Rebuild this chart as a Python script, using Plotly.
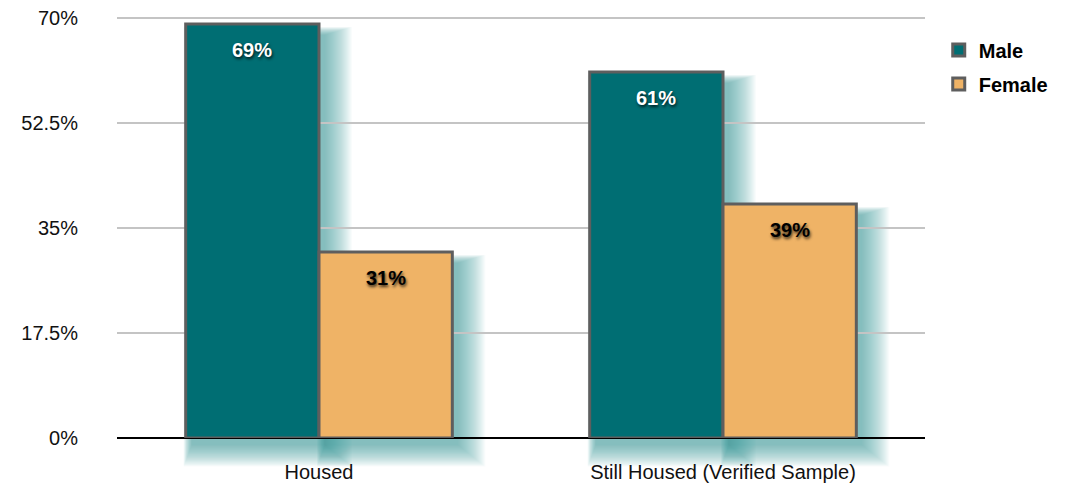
import plotly.graph_objects as go

categories = ["Housed", "Still Housed (Verified Sample)"]
male = [69, 61]
female = [31, 39]
tick_vals = [0, 17.5, 35, 52.5, 70]
tick_text = ["0%", "17.5%", "35%", "52.5%", "70%"]

FONT = "Liberation Sans, Arial, Helvetica, sans-serif"
# the page body has an 8px default margin, so the figure is drawn 8px in
L, R, T, B = 109, 147, 10, 46
W, H = 1064, 476
BARGAP = 0.34
YMAX = 70

fig = go.Figure()
series = [("Male", male, "#006E73", "white", -1), ("Female", female, "#EFB366", "black", 0)]
for name, vals, col, tcol, side in series:
    fig.add_trace(go.Bar(
        name=name, x=categories, y=vals, legendgroup=name,
        marker=dict(color=col, line=dict(color="#5E5E5E", width=3)),
        hoverinfo="x+y",
    ))

plot_w = W - L - R
plot_h = H - T - B
ncat = len(categories)
half = (1 - BARGAP) / 2

def xp(xd, px=0.0):
    return (xd + 0.5) / ncat + px / plot_w

def yp(yd, px=0.0):
    return yd / YMAX + px / plot_h

shapes = []
annotations = []
N = 28
for name, vals, col, tcol, side in series:
    for i, v in enumerate(vals):
        bx0 = i + side * half
        bx1 = bx0 + half
        dx, dy = 6, 7
        for k in range(N):
            g = k * 1.0
            shapes.append(dict(
                type="rect", xref="paper", yref="paper", layer="below",
                x0=xp(bx0, dx - g * 0.3), x1=xp(bx1, dx + g),
                y0=yp(0, -(dy + g * 0.8)), y1=yp(v, -(dy + 4 - g * 0.3)),
                fillcolor="#4A9DAE", opacity=0.03, line=dict(width=0),
            ))
        annotations.append(dict(
            x=i, xref="x", y=v, yref="y", xshift=(side + 0.5) * half * plot_w / ncat,
            yshift=-26, yanchor="middle", showarrow=False, text=f"{v}%",
            font=dict(family=FONT, size=20, color=tcol, weight="bold",
                      shadow="1px 2px 3px rgba(0,0,0,0.75)"),
        ))

# top gridline (plotly skips gridlines that sit on the very edge of the range)
shapes.append(dict(type="line", xref="paper", yref="paper", layer="below",
                   x0=0, x1=1, y0=yp(tick_vals[-1]), y1=yp(tick_vals[-1]),
                   line=dict(color="#C4C4C4", width=2)))

fig.update_layout(
    width=W, height=H,
    margin=dict(l=L, r=R, t=T, b=B),
    barmode="group", bargap=BARGAP, bargroupgap=0.0,
    plot_bgcolor="rgba(0,0,0,0)", paper_bgcolor="white",
    font=dict(family=FONT, size=20, color="#111"),
    legend=dict(x=1.017, y=0.97, xanchor="left", yanchor="top",
                font=dict(family=FONT, size=20, color="black", weight="bold"),
                traceorder="grouped", tracegroupgap=5, itemwidth=30),
    showlegend=True,
    shapes=shapes, annotations=annotations,
)
fig.update_xaxes(showgrid=False, showline=False, ticks="", automargin=False,
                 ticklabelstandoff=20, tickfont=dict(size=20, color="#111"),
                 range=[-0.5, ncat - 0.5])
fig.update_yaxes(range=[0, YMAX], tickvals=tick_vals, ticktext=tick_text, automargin=False,
                 showgrid=True, gridcolor="#C4C4C4", gridwidth=2, ticklabeloverflow="allow",
                 zeroline=True, zerolinecolor="black", zerolinewidth=2,
                 ticks="", ticklabelstandoff=38, tickfont=dict(size=20, color="#111"))

fig.write_html("out.html")
